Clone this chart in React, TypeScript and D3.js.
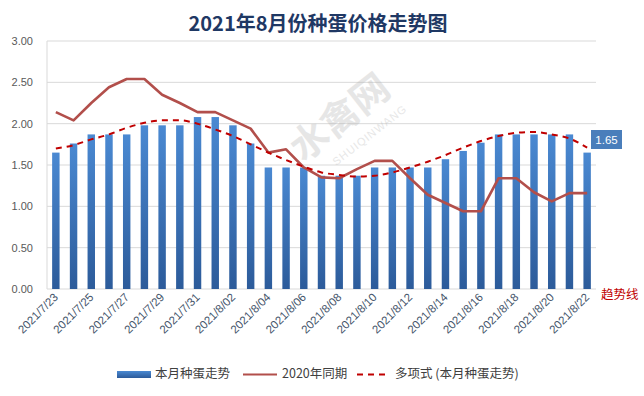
import * as d3 from "d3";

const WIDTH = 644;
const HEIGHT = 396;
const PLOT = { left: 47, right: 596, top: 41, bottom: 289 };
const FONT = "'Liberation Sans', 'Noto Sans CJK SC', sans-serif";
const CJK = "'Noto Sans CJK SC', 'Liberation Sans', sans-serif";

const dates = [
  "2021/7/23", "2021/7/24", "2021/7/25", "2021/7/26", "2021/7/27", "2021/7/28", "2021/7/29",
  "2021/7/30", "2021/7/31", "2021/8/01", "2021/8/02", "2021/8/03", "2021/8/04", "2021/8/05",
  "2021/8/06", "2021/8/07", "2021/8/08", "2021/8/09", "2021/8/10", "2021/8/11", "2021/8/12",
  "2021/8/13", "2021/8/14", "2021/8/15", "2021/8/16", "2021/8/17", "2021/8/18", "2021/8/19",
  "2021/8/20", "2021/8/21", "2021/8/22",
];

// 本月种蛋走势
const thisMonth = [
  1.65, 1.76, 1.87, 1.87, 1.87, 1.98, 1.98, 1.98, 2.08, 2.08, 1.98, 1.76, 1.47, 1.47, 1.47, 1.37,
  1.37, 1.37, 1.47, 1.47, 1.47, 1.47, 1.57, 1.67, 1.77, 1.87, 1.87, 1.87, 1.87, 1.87, 1.65,
];

// 2020年同期
const lastYear = [
  2.14, 2.04, 2.25, 2.44, 2.54, 2.54, 2.35, 2.25, 2.14, 2.14, 2.04, 1.94, 1.65, 1.69, 1.47, 1.35,
  1.34, 1.45, 1.55, 1.55, 1.34, 1.14, 1.04, 0.94, 0.94, 1.34, 1.34, 1.17, 1.06, 1.16, 1.16,
];

// 多项式 (本月种蛋走势)
const trend = [
  1.70, 1.74, 1.81, 1.87, 1.95, 2.01, 2.04, 2.04, 2.00, 1.93, 1.85, 1.75, 1.65, 1.56, 1.48, 1.41,
  1.38, 1.36, 1.37, 1.41, 1.47, 1.54, 1.62, 1.71, 1.79, 1.85, 1.89, 1.90, 1.87, 1.82, 1.71,
];

const yTicks = [0, 0.5, 1, 1.5, 2, 2.5, 3];

const BAR_TOP = "#4a89d2";
const BAR_BOTTOM = "#2c5b9a";
const LAST_YEAR_COLOR = "#b24f4b";
const TREND_COLOR = "#c00000";
const GRID_COLOR = "#d9d9d9";
const TICK_COLOR = "#595959";
const DATE_COLOR = "#44546a";

export default function App() {
  const x = d3.scaleBand<string>().domain(dates).range([PLOT.left, PLOT.right]).paddingInner(0.58).paddingOuter(0.29);
  const y = d3.scaleLinear().domain([0, 3]).range([PLOT.bottom, PLOT.top]);
  const cx = (i: number) => (x(dates[i]) ?? 0) + x.bandwidth() / 2;

  const line = d3
    .line<number>()
    .x((_, i) => cx(i))
    .y((v) => y(v));
  const smooth = d3
    .line<number>()
    .x((_, i) => cx(i))
    .y((v) => y(v))
    .curve(d3.curveMonotoneX);

  const last = thisMonth.length - 1;

  return (
    <svg width={WIDTH} height={HEIGHT} style={{ position: "absolute", left: 0, top: 0 }} fontFamily={FONT}>
      <defs>
        <linearGradient id="barFill" x1="0" y1="0" x2="0" y2="1">
          <stop offset="0" stopColor={BAR_TOP} />
          <stop offset="1" stopColor={BAR_BOTTOM} />
        </linearGradient>
      </defs>
      <rect width={WIDTH} height={HEIGHT} fill="#ffffff" />

      <text x={318} y={31} textAnchor="middle" fontFamily={CJK} fontWeight="700" fontSize="20" fill="#1f3864">
        2021年8月份种蛋价格走势图
      </text>

      {yTicks.map((t) => (
        <g key={t}>
          <line x1={PLOT.left} x2={PLOT.right} y1={y(t)} y2={y(t)} stroke={GRID_COLOR} strokeWidth="1" />
          <text x={33} y={y(t) + 4} textAnchor="end" fontSize="11" fill={TICK_COLOR}>
            {t.toFixed(2)}
          </text>
        </g>
      ))}
      <line x1={PLOT.left} x2={PLOT.left} y1={PLOT.top} y2={PLOT.bottom} stroke={GRID_COLOR} />

      {thisMonth.map((v, i) => (
        <rect key={dates[i]} x={x(dates[i])} y={y(v)} width={x.bandwidth()} height={PLOT.bottom - y(v)} fill="url(#barFill)" />
      ))}

      <path d={line(lastYear) ?? undefined} fill="none" stroke={LAST_YEAR_COLOR} strokeWidth="2.6" strokeLinejoin="round" />
      <path d={smooth(trend) ?? undefined} fill="none" stroke={TREND_COLOR} strokeWidth="2" strokeDasharray="6 5" />

      <g opacity="0.3" fill="#b0b0b0">
        <text x={348} y={128} textAnchor="middle" fontFamily={CJK} fontSize="38" fontWeight="700" transform="rotate(-38 348 128)">
          水禽网
        </text>
        <text x={372} y={138} textAnchor="middle" fontSize="11" letterSpacing="1" transform="rotate(-38 372 138)">
          SHUIQINWANG
        </text>
      </g>

      <rect x={591} y={130} width={31} height={19} fill="#4a7ebb" />
      <text x={606.5} y={144} textAnchor="middle" fontSize="11.5" fill="#ffffff">
        {thisMonth[last].toFixed(2)}
      </text>

      <text x={601} y={299} fontFamily={CJK} fontSize="12.5" fill={TREND_COLOR}>
        趋势线
      </text>

      {dates.map((d, i) =>
        i % 2 === 0 ? (
          <text key={d} x={cx(i) + 3} y={298} textAnchor="end" fontSize="11.5" fill={DATE_COLOR} transform={`rotate(-45 ${cx(i) + 3} 298)`}>
            {d}
          </text>
        ) : null
      )}

      <g fontFamily={CJK} fontSize="12.5" fill="#404040">
        <rect x={117} y={371} width={34} height={7} fill="url(#barFill)" />
        <text x={155} y={378}>本月种蛋走势</text>
        <line x1={243} x2={277} y1={374.5} y2={374.5} stroke={LAST_YEAR_COLOR} strokeWidth="2" />
        <text x={282} y={378}>2020年同期</text>
        <line x1={357} x2={390} y1={374.5} y2={374.5} stroke={TREND_COLOR} strokeWidth="2.2" strokeDasharray="6 5" />
        <text x={395} y={378}>多项式 (本月种蛋走势)</text>
      </g>
    </svg>
  );
}
